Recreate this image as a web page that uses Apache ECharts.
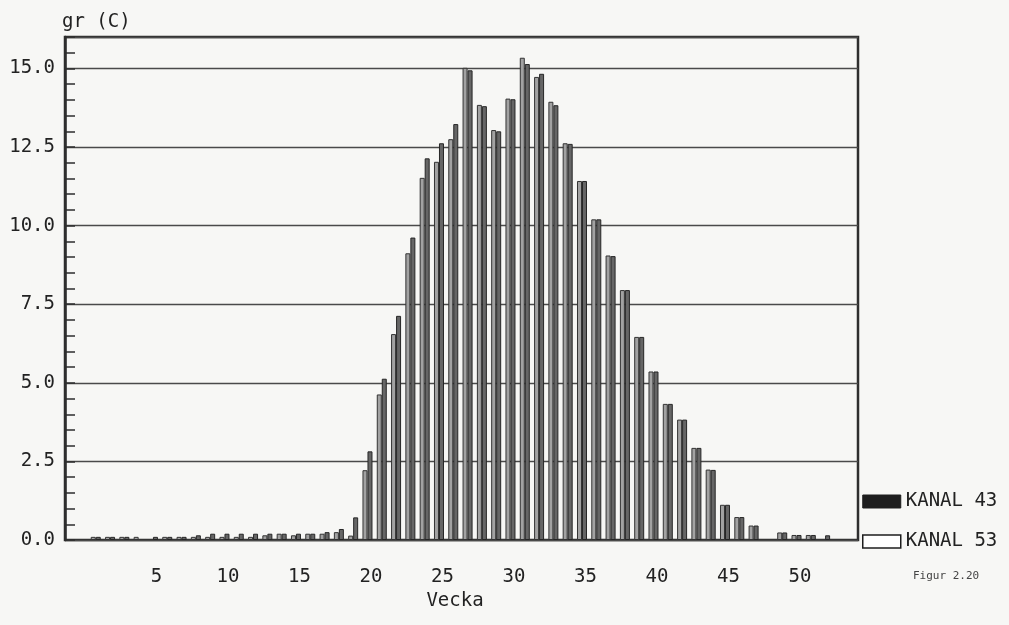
<!DOCTYPE html>
<html>
<head>
<meta charset="utf-8">
<title>gr (C) per vecka</title>
<script src="https://cdn.jsdelivr.net/npm/echarts@6/dist/echarts.min.js"></script>
<style>
  html, body { margin: 0; padding: 0; background: #f7f7f5; }
  #chart { width: 1009px; height: 625px; }
</style>
</head>
<body>
<div id="chart"></div>
<script>
// Week numbers (Vecka)
const weeks = [1, 2, 3, 4, 5, 6, 7, 8, 9, 10, 11, 12, 13, 14, 15, 16, 17, 18, 19, 20,
  21, 22, 23, 24, 25, 26, 27, 28, 29, 30, 31, 32, 33, 34, 35, 36, 37, 38, 39, 40,
  41, 42, 43, 44, 45, 46, 47, 48, 49, 50, 51, 52];

// KANAL 53 (left bar of each pair), gr (C); null = no bar
const kanal53 = [0.1, 0.1, 0.1, 0.1, null, 0.1, 0.1, 0.1, 0.1, 0.1, 0.1, 0.1, 0.15, 0.2, 0.15, 0.2, 0.2, 0.25, 0.14, 2.22,
  4.63, 6.55, 9.12, 11.52, 12.03, 12.75, 15.02, 13.84, 13.04, 14.04, 15.34, 14.73, 13.94, 12.62, 11.42, 10.2, 9.05, 7.95, 6.46, 5.36,
  4.33, 3.83, 2.93, 2.24, 1.12, 0.73, 0.46, null, 0.24, 0.16, 0.16, null];

// KANAL 43 (right bar of each pair), gr (C)
const kanal43 = [0.1, 0.1, 0.1, null, 0.1, 0.1, 0.1, 0.15, 0.2, 0.2, 0.2, 0.2, 0.2, 0.2, 0.2, 0.2, 0.25, 0.35, 0.72, 2.82,
  5.13, 7.13, 9.62, 12.14, 12.62, 13.23, 14.94, 13.8, 13.0, 14.02, 15.14, 14.83, 13.83, 12.6, 11.42, 10.2, 9.03, 7.95, 6.46, 5.36,
  4.33, 3.83, 2.93, 2.23, 1.12, 0.73, 0.46, null, 0.24, 0.16, 0.16, 0.15];

// Labelled weeks on the x axis
const weekTicks = [5, 10, 15, 20, 25, 30, 35, 40, 45, 50];

const FONT = 'DejaVu Sans Mono';
const INK = '#222';

const pairs = (vals) => weeks.map((w, i) => [w, vals[i]]);

const chart = echarts.init(document.getElementById('chart'), null, { renderer: 'canvas' });

chart.setOption({
  backgroundColor: '#f7f7f5',
  animation: false,
  grid: {
    left: 65, right: 151, top: 37, bottom: 85,
    show: true, borderColor: '#2e2e2e', borderWidth: 2.5, backgroundColor: 'transparent'
  },
  legend: {
    orient: 'vertical',
    left: 862, top: 492,
    itemWidth: 38, itemHeight: 13, itemGap: 21,
    padding: 0,
    icon: 'rect',
    textStyle: { fontFamily: FONT, fontSize: 19, color: INK },
    data: [
      { name: 'KANAL 43', itemStyle: { color: '#1e1e1e', borderColor: '#1e1e1e', borderWidth: 1 } },
      { name: 'KANAL 53', itemStyle: { color: '#ffffff', borderColor: '#1e1e1e', borderWidth: 1.5 } }
    ]
  },
  xAxis: {
    type: 'value',
    min: -1.15, max: 54.3,
    name: 'Vecka',
    nameLocation: 'middle',
    nameGap: 52,
    nameTextStyle: { fontFamily: FONT, fontSize: 19, color: INK, padding: [0, 13, 0, 0] },
    axisLine: { show: false },
    axisTick: { show: false },
    splitLine: { show: false },
    axisLabel: {
      customValues: weekTicks,
      margin: 28,
      fontFamily: FONT, fontSize: 19, color: INK,
      padding: [0, 0, 0, 7]
    }
  },
  yAxis: {
    type: 'value',
    min: 0, max: 16, interval: 2.5,
    name: 'gr (C)',
    nameLocation: 'end',
    nameGap: 5,
    nameTextStyle: { fontFamily: FONT, fontSize: 19, color: INK, align: 'left', padding: [0, 0, 0, -3] },
    axisLine: { show: true, onZero: false, lineStyle: { color: '#2e2e2e', width: 2.5 } },
    axisTick: { show: true, inside: true, length: 10, lineStyle: { color: '#2e2e2e', width: 1.5 } },
    minorTick: { show: true, splitNumber: 5, length: 10, lineStyle: { color: '#2e2e2e', width: 1.5 } },
    splitLine: { show: true, lineStyle: { color: '#4a4a4a', width: 1.3 } },
    axisLabel: {
      margin: 10,
      fontFamily: FONT, fontSize: 19, color: INK,
      formatter: (v) => (v > 16 ? '' : v.toFixed(1)),
      showMaxLabel: false
    }
  },
  series: [
    {
      name: 'KANAL 53',
      type: 'bar',
      data: pairs(kanal53),
      barWidth: 5,
      barGap: '0%',
      itemStyle: { color: '#a2a2a2', borderColor: '#333', borderWidth: 1 }
    },
    {
      name: 'KANAL 43',
      type: 'bar',
      data: pairs(kanal43),
      barWidth: 5,
      barGap: '0%',
      itemStyle: { color: '#666', borderColor: '#262626', borderWidth: 1 }
    }
  ],
  graphic: [
    {
      type: 'text',
      left: 913, top: 571,
      style: { text: 'Figur 2.20', fontFamily: FONT, fontSize: 11, fill: '#444' }
    }
  ]
});
</script>
</body>
</html>
